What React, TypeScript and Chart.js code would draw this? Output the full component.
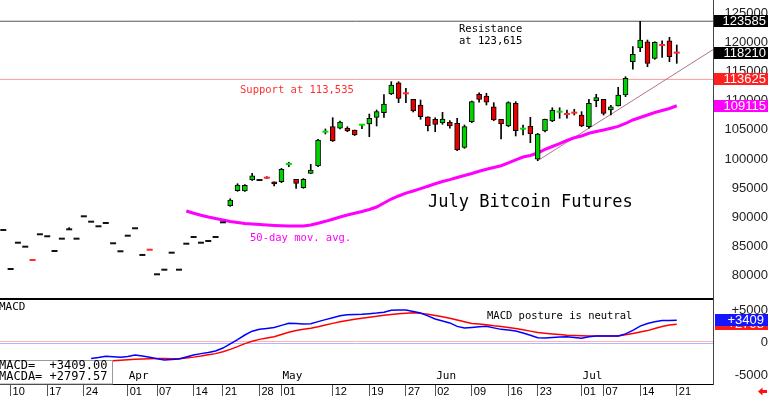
import React, { useEffect, useRef } from "react";
import { Chart, registerables } from "chart.js";
Chart.register(...registerables);

// ---- price data (one entry per trading day, index = bar number) ----
const opens = [
  87850, 81170, 85670, 84990, 82760, 87110, 86770, 84250, 86360, 87960,
  86360, 90190, 89270, 88480, 89040, 85570, 84200, 86870, 88140, 83570,
  84520, 80260, 81050, 83960, 81050, 85500, 86650, 85670, 85960, 86650,
  89160, 92000, 94570, 94520, 96400, 96400, 96830, 96110, 96110, 99120,
  96520, 95090, 97550, 98800, 104650, 105530, 105260, 105310, 104970, 105850,
  105990, 107140, 107930, 111130, 113060, 111280, 110220, 109250, 107240, 106800,
  106160, 106280, 106110, 102000, 106390, 111080, 110790, 108950, 106800, 105650,
  109540, 105170, 105650, 99950, 104790, 106510, 108080, 107720, 107950, 107530,
  105530, 109980, 110220, 108390, 109070, 110960, 116660, 119000, 120080, 117240,
  119540, 120250, 118300,
];
const highs = [
  87850, 81170, 85670, 84990, 82760, 87110, 86770, 84250, 86360, 88250,
  86360, 90190, 89270, 88480, 89040, 85570, 84200, 86870, 88140, 83570,
  84520, 80260, 81050, 83960, 81050, 85500, 86650, 85670, 85960, 86650,
  89160, 93200, 95770, 95630, 97550, 96400, 96970, 96110, 98410, 99440,
  96520, 96660, 99090, 103370, 105140, 107070, 106510, 105530, 104970, 105940,
  107700, 108390, 111010, 113230, 113230, 112100, 110220, 110100, 107240, 107070,
  107990, 106560, 106970, 105820, 109930, 111350, 111250, 109640, 106800, 109810,
  109810, 105820, 107140, 104400, 106850, 108780, 108780, 108390, 108510, 108100,
  110220, 111080, 110220, 109190, 112280, 114090, 119230, 123585, 120370, 120080,
  120250, 120840, 119520,
];
const lows = [
  87850, 81170, 85670, 84990, 82710, 87110, 86770, 84250, 86360, 87900,
  86360, 90190, 89270, 88480, 89040, 85570, 84200, 86870, 88140, 83570,
  84470, 80260, 81050, 83960, 81050, 85500, 86650, 85670, 85960, 86650,
  89160, 91900, 94470, 94440, 96320, 96400, 96660, 95380, 95940, 98680,
  94980, 94980, 97500, 98680, 104280, 103000, 105140, 104670, 104020, 105190,
  103820, 105650, 107140, 111010, 109640, 109640, 108050, 106800, 104790, 104670,
  105940, 105260, 101420, 101830, 106220, 109710, 109250, 106560, 103420, 105530,
  103940, 104110, 102790, 99710, 104620, 106390, 106970, 106970, 107530, 105530,
  105260, 108950, 107530, 107530, 109070, 110670, 115360, 118370, 115800, 117070,
  117410, 116660, 116380,
];
const closes = [
  87850, 81170, 85670, 84990, 82710, 87110, 86770, 84250, 86360, 87960,
  86360, 90190, 89270, 88480, 89040, 85570, 84200, 86870, 88140, 83570,
  84470, 80260, 81050, 83960, 81050, 85500, 86650, 85670, 85960, 86650,
  89160, 92980, 95550, 95500, 97140, 96400, 96800, 95720, 98240, 99150,
  95840, 96520, 98120, 103250, 104680, 103080, 106330, 104790, 104110, 105870,
  106970, 108100, 109420, 112670, 110390, 111250, 108220, 107240, 105700, 105940,
  106850, 105650, 101540, 105530, 109810, 110220, 109710, 106680, 105990, 109640,
  104850, 105190, 104280, 104280, 106800, 108390, 108100, 107700, 107930, 105650,
  109540, 110500, 107820, 108950, 110960, 113820, 117930, 120370, 116380, 119980,
  119520, 117510, 118210,
];

// 50-day moving average, starting at bar 25
const maStart = 25;
const ma50 = [
  91100, 90720, 90360, 90070, 89800, 89560, 89300, 89130, 88960, 88870,
  88790, 88700, 88630, 88580, 88530, 88530, 88530, 88700, 89010, 89330,
  89690, 90070, 90410, 90720, 91010, 91350, 91780, 92470, 93150, 93670,
  94150, 94520, 94920, 95340, 95770, 96150, 96470, 96830, 97180, 97520,
  97910, 98240, 98550, 98850, 99320, 99860, 100340, 100600, 101030, 101630,
  102140, 102650, 103170, 103630, 103940, 104400, 104710, 104970, 105270, 105580,
  106080, 106680, 107110, 107530, 107960, 108300, 108650, 109115,
];

// MACD (blue) and MACD average (red), starting at bar 12
const macdStart = 12;
const macdLine = [
  -2460, -2310, -2110, -2200, -2280, -2140, -1920, -2080, -2280, -2510,
  -2690, -2630, -2540, -2230, -1920, -1710, -1540, -1310, -850, -200,
  430, 1150, 1740, 2030, 2170, 2320, 2630, 2950, 2910, 2850,
  2880, 3210, 3520, 3810, 4110, 4250, 4290, 4340, 4430, 4520,
  4660, 4970, 5000, 5000, 4770, 4540, 4090, 3610, 3310, 3010,
  2480, 2230, 2320, 2420, 2490, 2250, 2020, 1910, 1780, 1460,
  1110, 720, 710, 780, 830, 880, 780, 660, 880, 1000,
  1000, 1000, 1000, 1320, 1860, 2520, 2910, 3200, 3370, 3380,
  3409,
];
const macdAvg = [
  -2920, -2880, -2850, -2820, -2740, -2660, -2580, -2520, -2490, -2450,
  -2460, -2510, -2510, -2380, -2250, -2090, -1890, -1710, -1420, -1060,
  -630, -170, 200, 480, 690, 880, 1230, 1570, 1860, 2030,
  2200, 2420, 2680, 2940, 3200, 3400, 3570, 3720, 3890, 4050,
  4180, 4320, 4430, 4510, 4570, 4480, 4340, 4170, 3970, 3740,
  3460, 3200, 2940, 2850, 2740, 2580, 2460, 2320, 2150, 1950,
  1750, 1540, 1430, 1320, 1220, 1120, 1080, 1030, 1000, 1000,
  1000, 1000, 1000, 1200, 1380, 1600, 1830, 2140, 2460, 2690,
  2797.57,
];

// axis labels
const dayTickBars = [1, 6, 11, 17, 21, 26, 30, 35, 38, 45, 50, 55, 59, 64, 69, 73, 79, 82, 87, 92];
const dayTickLabels = ["10", "17", "24", "01", "07", "14", "21", "28", "01", "12", "19", "27", "02", "09", "16", "23", "01", "07", "14", "21"];
const monthBars = [17, 38, 59, 79];
const monthLabels = ["Apr", "May", "Jun", "Jul"];
const priceTicks = [80000, 85000, 90000, 95000, 100000, 105000, 110000, 115000, 120000, 125000];
const macdTicks = [-5000, 0, 5000];

// reference levels
const resistanceLevel = 123585;
const supportLevel = 113625;
const trendFromBar = 73;
const trendFromValue = 99710;
const trendToBar = 96.95;
const trendToValue = 118720;

const X_MIN = -0.45;
const X_MAX = 96.95;
const FLAT = 300;

const GREEN = "#00d400";
const RED = "#e80000";
const MONO = '"DejaVu Sans Mono", monospace';
const SANS = '"Liberation Sans", Arial, sans-serif';

function lastOf(a: number[]) {
  return a[a.length - 1];
}

const mainDecor = {
  id: "mainDecor",
  afterDraw(chart: any) {
    const { ctx } = chart;
    const y = chart.scales.y;
    ctx.save();
    ctx.textBaseline = "middle";
    ctx.textAlign = "left";
    ctx.font = `10.5px ${MONO}`;
    ctx.fillStyle = "#000";
    ctx.fillText("Resistance", 459, 29);
    ctx.fillText("at 123,615", 459, 41);
    ctx.fillStyle = "#ff3030";
    ctx.fillText("Support at 113,535", 240, 90);
    ctx.fillStyle = "#ff00ff";
    ctx.fillText("50-day mov. avg.", 250, 238);
    ctx.fillStyle = "#000";
    ctx.font = `17px ${MONO}`;
    ctx.fillText("July Bitcoin Futures", 428, 203);

    const boxes: [number, string][] = [
      [resistanceLevel, "#000"],
      [lastOf(closes), "#000"],
      [supportLevel, "#ff2020"],
      [lastOf(ma50), "#ff00ff"],
    ];
    ctx.font = `13px ${SANS}`;
    ctx.textAlign = "right";
    for (const [v, col] of boxes) {
      const py = y.getPixelForValue(v);
      ctx.fillStyle = col;
      ctx.fillRect(714, Math.round(py) - 6, 54, 12);
      ctx.fillStyle = "#fff";
      ctx.fillText(String(Math.round(v)), 766, py + 0.5);
    }
    ctx.restore();
  },
};

const macdDecor = {
  id: "macdDecor",
  beforeDatasetsDraw(chart: any) {
    const { ctx, chartArea } = chart;
    const y = chart.scales.y;
    const z = y.getPixelForValue(0);
    ctx.save();
    ctx.strokeStyle = "#ffb4b4";
    ctx.lineWidth = 1;
    ctx.beginPath();
    ctx.moveTo(chartArea.left, Math.round(z) - 0.5);
    ctx.lineTo(chartArea.right, Math.round(z) - 0.5);
    ctx.stroke();
    ctx.strokeStyle = "#b4b4ff";
    ctx.beginPath();
    ctx.moveTo(chartArea.left, Math.round(z) + 1.5);
    ctx.lineTo(chartArea.right, Math.round(z) + 1.5);
    ctx.stroke();
    ctx.restore();
  },
  afterDraw(chart: any) {
    const { ctx, chartArea } = chart;
    const x = chart.scales.x;
    const y = chart.scales.y;
    ctx.save();
    // top separator
    ctx.fillStyle = "#000";
    ctx.fillRect(0, 1, chartArea.right, 2);
    ctx.textBaseline = "middle";
    ctx.textAlign = "left";
    ctx.font = `11px ${MONO}`;
    ctx.fillText("MACD", -1, 10);
    ctx.font = `10.5px ${MONO}`;
    ctx.fillText("MACD posture is neutral", 487, 19);
    // month labels
    ctx.font = `11px ${MONO}`;
    monthBars.forEach((b, i) => {
      ctx.fillText(monthLabels[i], x.getPixelForValue(b) + 1, 79);
    });
    // value box
    ctx.fillStyle = "#fff";
    ctx.fillRect(0, 63, 113, chartArea.bottom - 63);
    ctx.strokeStyle = "#999";
    ctx.lineWidth = 1;
    ctx.strokeRect(-1, 63.5, 113.5, chartArea.bottom - 63.5);
    ctx.fillStyle = "#000";
    ctx.font = `12px ${MONO}`;
    ctx.fillText("MACD=  +" + lastOf(macdLine).toFixed(2), -1, 69);
    ctx.fillText("MACDA= +" + lastOf(macdAvg).toFixed(2), -1, 80);
    // right value boxes
    ctx.font = `13px ${SANS}`;
    ctx.textAlign = "right";
    const items: [number, string][] = [
      [lastOf(macdAvg), "#ff1a1a"],
      [lastOf(macdLine), "#1515ff"],
    ];
    for (const [v, col] of items) {
      const py = y.getPixelForValue(v);
      ctx.fillStyle = col;
      ctx.fillRect(715, Math.round(py) - 6, 53, 12);
      ctx.fillStyle = "#fff";
      ctx.fillText("+" + Math.round(v), 764, py + 0.5);
    }
    // small red arrow
    ctx.fillStyle = "#ff1010";
    ctx.beginPath();
    ctx.moveTo(758, 94.5);
    ctx.lineTo(762.5, 90.5);
    ctx.lineTo(762.5, 93);
    ctx.lineTo(767, 93);
    ctx.lineTo(767, 96);
    ctx.lineTo(762.5, 96);
    ctx.lineTo(762.5, 98.5);
    ctx.closePath();
    ctx.fill();
    ctx.restore();
  },
};

function buildMain(canvas: HTMLCanvasElement) {
  const bars = opens.map((o, k) => ({ k, o, h: highs[k], l: lows[k], c: closes[k] }));
  const wickData = bars.filter((b) => b.h > b.l).map((b) => ({ x: b.k, y: [b.l, b.h] }));
  const bodyBars = bars.filter((b) => Math.abs(b.c - b.o) >= FLAT);
  const bodyData = bodyBars.map((b) => ({ x: b.k, y: [Math.min(b.o, b.c), Math.max(b.o, b.c)] }));
  const bodyColors = bodyBars.map((b) => (b.c > b.o ? GREEN : RED));
  const flatBars = bars.filter((b) => Math.abs(b.c - b.o) < FLAT);
  const dashData = flatBars.map((b) => ({ x: b.k, y: b.c }));
  const dashColors = flatBars.map((b) => (b.c > b.o ? "#00e000" : b.c < b.o ? "#ff2a2a" : "#111"));
  const maData = ma50.map((v, i) => ({ x: maStart + i, y: v }));
  const trendData = [
    { x: trendFromBar, y: trendFromValue },
    { x: trendToBar, y: trendToValue },
  ];
  const resData = [
    { x: X_MIN, y: resistanceLevel },
    { x: X_MAX, y: resistanceLevel },
  ];
  const supData = [
    { x: X_MIN, y: supportLevel },
    { x: X_MAX, y: supportLevel },
  ];

  return new Chart(canvas, {
    type: "bar",
    data: {
      datasets: [
        {
          type: "line",
          data: dashData,
          showLine: false,
          pointStyle: "line",
          pointRadius: 3,
          pointHoverRadius: 3,
          pointBorderWidth: 2,
          pointBorderColor: dashColors,
          pointBackgroundColor: dashColors,
          order: 0,
        } as any,
        {
          type: "bar",
          data: bodyData,
          backgroundColor: bodyColors,
          borderColor: "#000",
          borderWidth: 1,
          borderSkipped: false,
          barThickness: 5,
          grouped: false,
          order: 1,
        } as any,
        {
          type: "bar",
          data: wickData,
          backgroundColor: "#000",
          borderWidth: 0,
          barThickness: 1,
          grouped: false,
          order: 2,
        } as any,
        { type: "line", data: maData, borderColor: "#ff00ff", borderWidth: 3, pointRadius: 0, order: 3 } as any,
        { type: "line", data: trendData, borderColor: "#b8708f", borderWidth: 1, pointRadius: 0, order: 4 } as any,
        { type: "line", data: resData, borderColor: "#555", borderWidth: 1, pointRadius: 0, order: 5 } as any,
        { type: "line", data: supData, borderColor: "#ff9c9c", borderWidth: 1, pointRadius: 0, order: 5 } as any,
      ],
    },
    options: {
      responsive: false,
      animation: false,
      devicePixelRatio: 1,
      events: [],
      layout: { padding: 0, autoPadding: false },
      plugins: { legend: { display: false }, tooltip: { enabled: false } },
      scales: {
        x: { type: "linear", display: false, min: X_MIN, max: X_MAX, offset: false },
        y: {
          type: "linear",
          position: "right",
          min: 76374,
          max: 127222,
          afterBuildTicks: (s: any) => {
            s.ticks = priceTicks.map((v) => ({ value: v }));
          },
          afterFit: (s: any) => {
            s.width = 55;
            s.paddingTop = 0;
            s.paddingBottom = 0;
          },
          ticks: {
            callback: (v: any) => String(v),
            color: "#222",
            font: { size: 13, family: SANS },
            padding: 10,
            crossAlign: "far",
          },
          grid: { drawOnChartArea: false, drawTicks: false },
          border: { display: true, color: "#444", dash: [1, 1] },
        },
      },
    } as any,
    plugins: [mainDecor],
  });
}

function buildMacd(canvas: HTMLCanvasElement) {
  const blue = macdLine.map((v, i) => ({ x: macdStart + i, y: v }));
  const red = macdAvg.map((v, i) => ({ x: macdStart + i, y: v }));
  return new Chart(canvas, {
    type: "line",
    data: {
      datasets: [
        { data: blue, borderColor: "#0000ff", borderWidth: 1.5, pointRadius: 0, order: 0 },
        { data: red, borderColor: "#ff0000", borderWidth: 1.5, pointRadius: 0, order: 1 },
      ],
    },
    options: {
      responsive: false,
      animation: false,
      devicePixelRatio: 1,
      events: [],
      layout: { padding: 0, autoPadding: false },
      plugins: { legend: { display: false }, tooltip: { enabled: false } },
      scales: {
        x: {
          type: "linear",
          position: "bottom",
          min: X_MIN,
          max: X_MAX,
          offset: false,
          afterBuildTicks: (s: any) => {
            s.ticks = dayTickBars.map((v) => ({ value: v }));
          },
          afterFit: (s: any) => {
            s.height = 12;
            s.paddingLeft = 0;
            s.paddingRight = 0;
          },
          ticks: {
            autoSkip: false,
            maxRotation: 0,
            minRotation: 0,
            align: "start",
            labelOffset: 2,
            padding: -11,
            color: "#000",
            font: { size: 11, family: SANS },
            callback: (_v: any, i: number) => dayTickLabels[i],
          },
          grid: { drawOnChartArea: false, drawTicks: true, tickLength: 12, color: "#555", lineWidth: 1 },
          border: { display: true, color: "#000", width: 1 },
        },
        y: {
          type: "linear",
          position: "right",
          min: -6383,
          max: 6998,
          afterBuildTicks: (s: any) => {
            s.ticks = macdTicks.map((v) => ({ value: v }));
          },
          afterFit: (s: any) => {
            s.width = 55;
            s.paddingTop = 0;
            s.paddingBottom = 0;
          },
          ticks: {
            callback: (v: any) => (v > 0 ? "+" + v : String(v)),
            color: "#222",
            font: { size: 13, family: SANS },
            padding: 8.5,
            crossAlign: "far",
          },
          grid: { drawOnChartArea: false, drawTicks: false },
          border: { display: true, color: "#444", dash: [1, 1] },
        },
      },
    } as any,
    plugins: [macdDecor],
  });
}

export default function App() {
  const mainRef = useRef<HTMLCanvasElement>(null);
  const macdRef = useRef<HTMLCanvasElement>(null);
  useEffect(() => {
    const c1 = buildMain(mainRef.current!);
    const c2 = buildMacd(macdRef.current!);
    return () => {
      c1.destroy();
      c2.destroy();
    };
  }, []);
  return (
    <div
      style={{
        position: "fixed",
        left: 0,
        top: 0,
        width: 768,
        height: 396,
        background: "#fff",
        overflow: "hidden",
      }}
    >
      <canvas
        ref={mainRef}
        width={768}
        height={297}
        style={{ position: "absolute", left: 0, top: 0, width: 768, height: 297 }}
      />
      <canvas
        ref={macdRef}
        width={768}
        height={99}
        style={{ position: "absolute", left: 0, top: 297, width: 768, height: 99 }}
      />
    </div>
  );
}
